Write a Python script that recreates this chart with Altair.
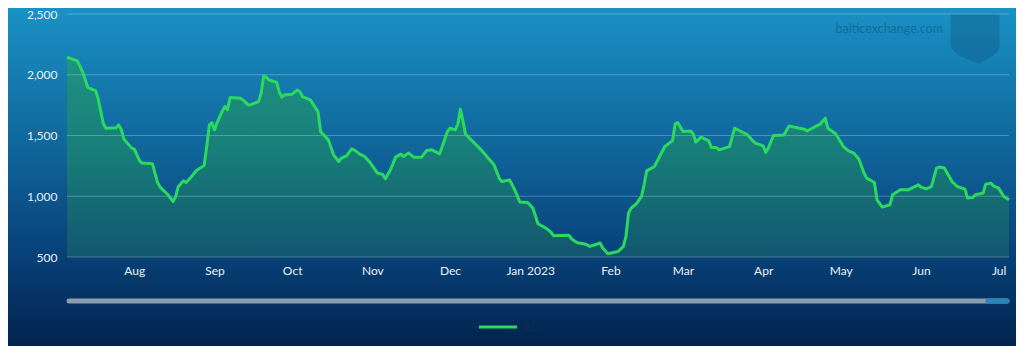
import altair as alt
import pandas as pd

# ---- data (BDI) ----
dates = [
    "2022-07-06", "2022-07-10", "2022-07-12", "2022-07-14", "2022-07-17", "2022-07-18",
    "2022-07-20", "2022-07-21", "2022-07-25", "2022-07-26", "2022-07-27", "2022-07-28",
    "2022-07-31", "2022-08-01", "2022-08-03", "2022-08-04", "2022-08-08", "2022-08-10",
    "2022-08-11", "2022-08-14", "2022-08-16", "2022-08-17", "2022-08-18", "2022-08-20",
    "2022-08-21", "2022-08-23", "2022-08-25", "2022-08-28", "2022-08-29", "2022-08-30",
    "2022-08-31", "2022-09-01", "2022-09-02", "2022-09-04", "2022-09-05", "2022-09-06",
    "2022-09-07", "2022-09-11", "2022-09-12", "2022-09-14", "2022-09-15", "2022-09-18",
    "2022-09-19", "2022-09-20", "2022-09-21", "2022-09-22", "2022-09-25", "2022-09-26",
    "2022-09-27", "2022-09-28", "2022-10-01", "2022-10-03", "2022-10-04", "2022-10-05",
    "2022-10-08", "2022-10-11", "2022-10-12", "2022-10-15", "2022-10-17", "2022-10-19",
    "2022-10-20", "2022-10-22", "2022-10-24", "2022-10-25", "2022-10-27", "2022-10-29",
    "2022-10-31", "2022-11-03", "2022-11-05", "2022-11-06", "2022-11-08", "2022-11-10",
    "2022-11-12", "2022-11-13", "2022-11-15", "2022-11-17", "2022-11-20", "2022-11-22",
    "2022-11-24", "2022-11-27", "2022-11-28", "2022-11-30", "2022-12-01", "2022-12-03",
    "2022-12-04", "2022-12-05", "2022-12-06", "2022-12-07", "2022-12-13", "2022-12-18",
    "2022-12-20", "2022-12-21", "2022-12-24", "2022-12-26", "2022-12-28", "2022-12-31",
    "2023-01-02", "2023-01-04", "2023-01-07", "2023-01-09", "2023-01-10", "2023-01-16",
    "2023-01-17", "2023-01-19", "2023-01-22", "2023-01-23", "2023-01-24", "2023-01-26",
    "2023-01-28", "2023-01-29", "2023-01-31", "2023-02-03", "2023-02-04", "2023-02-06",
    "2023-02-07", "2023-02-08", "2023-02-09", "2023-02-11", "2023-02-13", "2023-02-14",
    "2023-02-15", "2023-02-18", "2023-02-20", "2023-02-22", "2023-02-25", "2023-02-26",
    "2023-02-27", "2023-03-01", "2023-03-04", "2023-03-05", "2023-03-06", "2023-03-08",
    "2023-03-11", "2023-03-12", "2023-03-14", "2023-03-15", "2023-03-19", "2023-03-21",
    "2023-03-26", "2023-03-28", "2023-03-29", "2023-04-01", "2023-04-02", "2023-04-03",
    "2023-04-05", "2023-04-09", "2023-04-11", "2023-04-15", "2023-04-17", "2023-04-18",
    "2023-04-20", "2023-04-23", "2023-04-25", "2023-04-26", "2023-04-29", "2023-05-02",
    "2023-05-04", "2023-05-06", "2023-05-08", "2023-05-10", "2023-05-11", "2023-05-14",
    "2023-05-15", "2023-05-17", "2023-05-20", "2023-05-21", "2023-05-24", "2023-05-27",
    "2023-05-31", "2023-06-01", "2023-06-03", "2023-06-05", "2023-06-07", "2023-06-08",
    "2023-06-10", "2023-06-13", "2023-06-15", "2023-06-18", "2023-06-19", "2023-06-21",
    "2023-06-22", "2023-06-25", "2023-06-26", "2023-06-28", "2023-06-29", "2023-07-01",
    "2023-07-03", "2023-07-05",
]
values = [
    2144, 2114, 2026, 1897, 1870, 1807,
    1601, 1560, 1563, 1588, 1546, 1470,
    1396, 1388, 1294, 1273, 1267, 1113,
    1075, 1012, 957, 998, 1080, 1127,
    1113, 1158, 1212, 1253, 1409, 1588,
    1606, 1546, 1606, 1700, 1738, 1711,
    1812, 1807, 1793, 1752, 1754, 1779,
    1848, 1990, 1980, 1957, 1938, 1861,
    1815, 1834, 1840, 1875, 1861, 1820,
    1793, 1697, 1532, 1464, 1341, 1286,
    1314, 1333, 1390, 1382, 1349, 1327,
    1281, 1190, 1179, 1144, 1218, 1322,
    1347, 1327, 1355, 1322, 1322, 1377,
    1382, 1349, 1409, 1532, 1560, 1546,
    1590, 1717, 1620, 1511, 1382, 1259,
    1149, 1121, 1135, 1053, 952, 949,
    903, 774, 738, 705, 675, 678,
    648, 620, 607, 601, 587, 601,
    615, 574, 527, 541, 546, 587,
    669, 862, 903, 938, 998, 1094,
    1209, 1245, 1327, 1409, 1458, 1596,
    1606, 1532, 1538, 1511, 1445, 1486,
    1456, 1401, 1401, 1382, 1409, 1560,
    1505, 1456, 1437, 1415, 1360, 1396,
    1500, 1505, 1579, 1560, 1552, 1538,
    1560, 1593, 1643, 1560, 1514, 1409,
    1374, 1355, 1306, 1190, 1149, 1113,
    971, 911, 930, 1012, 1053, 1053,
    1094, 1075, 1061, 1080, 1232, 1240,
    1232, 1121, 1080, 1059, 985, 990,
    1012, 1026, 1100, 1108, 1086, 1067,
    998, 971,
]
series_name = "BDI"
y_ticks = [500, 1000, 1500, 2000, 2500]
month_ticks = [(2022, 8), (2022, 9), (2022, 10), (2022, 11), (2022, 12), (2023, 1),
               (2023, 2), (2023, 3), (2023, 4), (2023, 5), (2023, 6), (2023, 7)]
watermark = "balticexchange.com"

df = pd.DataFrame({"date": dates, "value": values, "series": series_name})
grid_df = pd.DataFrame({"value": y_ticks})
one = pd.DataFrame({"k": [0]})

# ---- layout ----
W, H = 942, 243
PAD_L, PAD_T = 59, 6
TOTAL_W, TOTAL_H = 1008, 338
PAD_R = TOTAL_W - W - PAD_L
PAD_B = TOTAL_H - H - PAD_T

FONT = "Lato"

bg_grad = alt.Gradient(
    gradient="linear", x1=0, x2=0, y1=0, y2=1,
    stops=[
        alt.GradientStop(color="#1a91c4", offset=0),
        alt.GradientStop(color="#10679c", offset=0.4),
        alt.GradientStop(color="#07427a", offset=0.72),
        alt.GradientStop(color="#02234d", offset=1),
    ],
)
area_grad = alt.Gradient(
    gradient="linear", x1=0, x2=0, y1=0, y2=1,
    stops=[
        alt.GradientStop(color="#1f9383", offset=0),
        alt.GradientStop(color="#177c78", offset=0.5),
        alt.GradientStop(color="#125670", offset=1),
    ],
)

x_scale = alt.Scale(
    type="utc",
    domain=[alt.DateTime(year=2022, month=7, date=6, utc=True),
            alt.DateTime(year=2023, month=7, date=5, utc=True)],
)
y_scale = alt.Scale(domain=[500, 2500], zero=False, nice=False)

x_axis = alt.Axis(
    title=None, grid=False, domain=False, ticks=False, labelAngle=0, zindex=1,
    values=[alt.DateTime(year=y, month=m, date=1, utc=True) for y, m in month_ticks],
    labelExpr="utcFormat(datum.value, utcmonth(datum.value) == 0 ? '%b %Y' : '%b')",
    labelPadding=8, labelFontSize=12, labelColor="#e9f1f7", labelFont=FONT,
    labelOverlap=False,
)
y_axis = alt.Axis(
    title=None, domain=False, ticks=False, grid=False, values=y_ticks,
    labelExpr="format(datum.value, ',.0f')",
    zindex=1, labelPadding=10, labelFontSize=12, labelColor="#e9f1f7", labelFont=FONT,
)

x_enc = alt.X("date:T", scale=x_scale, axis=x_axis)
y_enc = alt.Y("value:Q", scale=y_scale, axis=y_axis)

background = alt.Chart(one).mark_rect(fill=bg_grad).encode(
    x=alt.value(-PAD_L), x2=alt.value(W + PAD_R),
    y=alt.value(-PAD_T), y2=alt.value(H + PAD_B),
)

area = alt.Chart(df).mark_area(fill=area_grad).encode(
    x=x_enc, y=y_enc, y2=alt.Y2(datum=500)
)

grid = alt.Chart(grid_df).mark_rule(color="#ffffff", opacity=0.25, strokeWidth=1).encode(
    y=alt.Y("value:Q", scale=y_scale, axis=y_axis),
    x=alt.value(0), x2=alt.value(W),
)

line = alt.Chart(df).mark_line(strokeWidth=3, strokeJoin="round").encode(
    x=x_enc, y=y_enc,
    color=alt.Color(
        "series:N",
        scale=alt.Scale(domain=[series_name], range=["#2bd95f"]),
        legend=alt.Legend(
            title=None, orient="none", legendX=410, legendY=292,
            symbolType="stroke", symbolStrokeWidth=3, symbolSize=1450,
            labelColor="#0e2d52", labelFontSize=12, labelFont=FONT,
        ),
    ),
)

scroll_track = alt.Chart(one).mark_rule(strokeWidth=5, strokeCap="round", color="#8c9db1").encode(
    x=alt.value(2), x2=alt.value(W - 2), y=alt.value(287)
)
scroll_thumb = alt.Chart(one).mark_rule(strokeWidth=5, strokeCap="round", color="#2a86b8").encode(
    x=alt.value(921), x2=alt.value(W - 2), y=alt.value(287)
)

wm_text = alt.Chart(one).mark_text(
    text=watermark, align="right", baseline="middle", font=FONT, fontSize=12.5,
    color="#0d5a88", opacity=0.6,
).encode(x=alt.value(876), y=alt.value(15))

shield_path = ("M-1,-1 L1,-1 L1,0.3 C1,0.55 0.6,0.8 0.15,1 "
               "C-0.45,0.8 -1,0.55 -1,0.2 Z")
shield = alt.Chart(one).mark_point(
    shape=shield_path, size=2400, filled=True, fill="#0d5a88", opacity=0.4, strokeWidth=0,
).encode(x=alt.value(908), y=alt.value(25))

chart = alt.layer(
    background, area, grid, line, scroll_track, scroll_thumb, wm_text, shield
).properties(
    width=W, height=H,
    padding={"left": PAD_L, "top": PAD_T, "right": PAD_R, "bottom": PAD_B},
    autosize=alt.AutoSizeParams(type="none"),
    background="#0f5f92",
).configure_view(stroke=None)

chart.save("out.html", embed_options={"renderer": "svg", "actions": False})
